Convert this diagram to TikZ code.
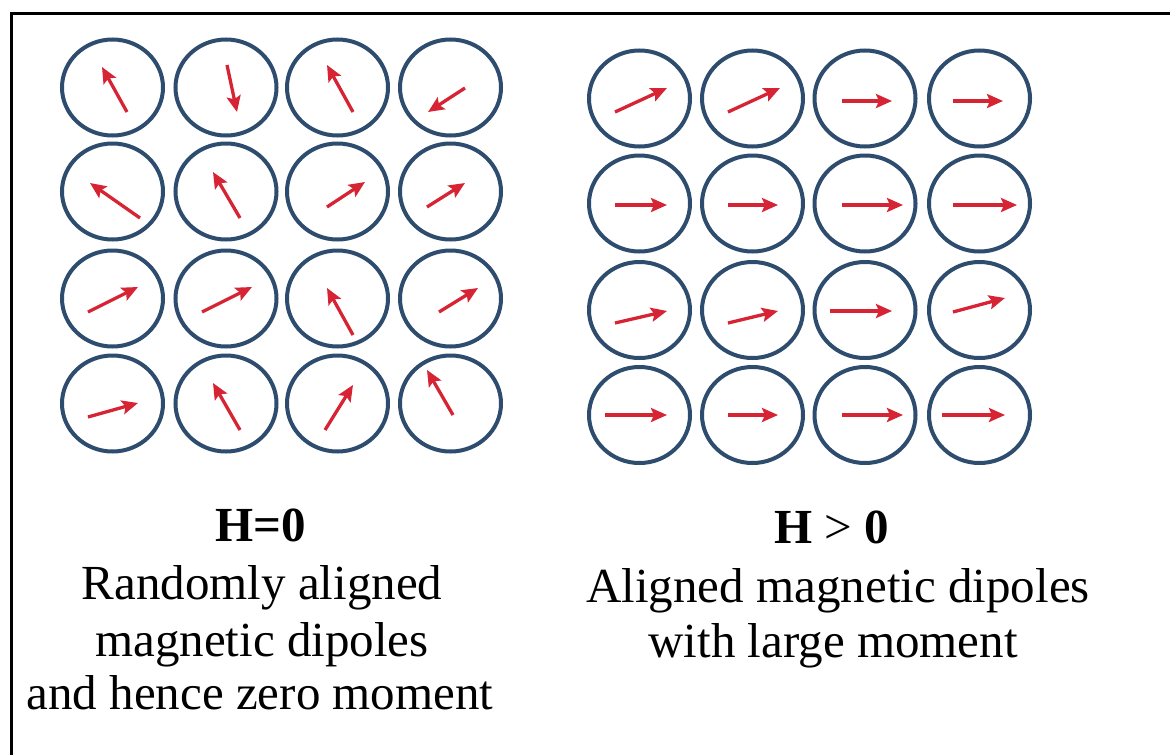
\documentclass[tikz,border=0pt]{standalone}
\usepackage{fontspec}
\setmainfont{Liberation Serif}
\usetikzlibrary{shapes.geometric,arrows.meta}
\definecolor{ringblue}{RGB}{46,76,110}
\definecolor{dipred}{RGB}{214,36,52}
\tikzset{
  ring/.style={draw=ringblue, line width=4pt, ellipse, inner sep=0pt,
    minimum width=101pt, minimum height=96pt},
  dipole/.style={draw=dipred, line width=3.3pt,
    -{Stealth[length=16pt,width=14pt,inset=3pt]}},
  lbl/.style={anchor=base, inner sep=0pt, font=\fontsize{49}{56}\selectfont},
  hlbl/.style={lbl, font=\fontsize{49}{56}\selectfont\bfseries},
  frame/.style={draw=black, line width=3pt}
}
\begin{document}
\begin{tikzpicture}[x=1pt,y=-1pt]
\useasboundingbox[fill=white] (0,0) rectangle (1170,755);
\coordinate (fTR) at (1170,13);
\coordinate (fTL) at (11,13);
\coordinate (fBL) at (11,755);
\draw[frame] (fTR) -- (fTL) -- (fBL);
% left grid
\foreach \c/\x in {1/112.5,2/226,3/337.5,4/450.5}{
  \foreach \r/\y in {1/87.5,2/191.5,3/298.5,4/403.5}{
    \node[ring] (L\r\c) at (\x,\y) {};
  }
}
% right grid
\foreach \c/\x in {1/639.5,2/752.5,3/865,4/979.5}{
  \foreach \r/\y in {1/98.5,2/203.5,3/310,4/415}{
    \node[ring] (R\r\c) at (\x,\y) {};
  }
}
% left dipoles: node / tail dx,dy / head dx,dy
\foreach \n/\a/\b/\p/\q in {
  L11/14.5/24.5/-10.5/-20.5, L12/1/-22.5/11/24.5, L13/15.5/24.5/-10.5/-22.5, L14/14.5/0.5/-22.5/24.5,
  L21/27.5/26.5/-22.5/-8.5, L22/14/26.5/-13/-19.5, L23/-10.5/15.5/27.5/-9.5, L24/-23.5/15.5/14.5/-8.5,
  L31/-24.5/13.5/25.5/-11.5, L32/-24/13.5/26/-11.5, L33/15.5/36.5/-10.5/-10.5, L34/-11.5/13.5/27.5/-10.5,
  L41/-24.5/13.5/25.5/-0.5, L42/14/26.5/-13/-20.5, L43/-12.5/26.5/15.5/-18.5, L44/2.5/11.5/-23.5/-33.5}{
  \draw[dipole] ([shift={(\a,\b)}]\n.center) -- ([shift={(\p,\q)}]\n.center);
}
% right dipoles
\foreach \n/\a/\b/\p/\q in {
  R11/-24.5/13.5/27.5/-10.5, R12/-24.5/13.5/27.5/-10.5, R13/-23/2.5/27/2.5, R14/-26.5/2.5/23.5/2.5,
  R21/-24.5/1.5/27.5/1.5, R22/-24.5/1.5/25.5/1.5, R23/-23/1.5/38/1.5, R24/-26.5/1.5/37.5/1.5,
  R31/-24.5/13/27.5/1, R32/-24.5/13/25.5/1, R33/-35/1/27/1, R34/-26.5/2/25.5/-12,
  R41/-34.5/0/27.5/0, R42/-24.5/0/25.5/0, R43/-23/0/38/0, R44/-37.5/0/25.5/0}{
  \draw[dipole] ([shift={(\a,\b)}]\n.center) -- ([shift={(\p,\q)}]\n.center);
}
% labels
\node[hlbl] (hz) at (261,541) {H=0};
\node[lbl] (lt1) at (262,599) {Randomly aligned};
\node[lbl] (lt2) at (262,656) {magnetic dipoles};
\node[lbl] (lt3) at (260,709) {and hence zero moment};
\node[hlbl] (hp) at (832,543) {H \textmd{>} 0};
\node[lbl] (rt1) at (838,602) {Aligned magnetic dipoles};
\node[lbl] (rt2) at (833,657) {with large moment};
\end{tikzpicture}
\end{document}
